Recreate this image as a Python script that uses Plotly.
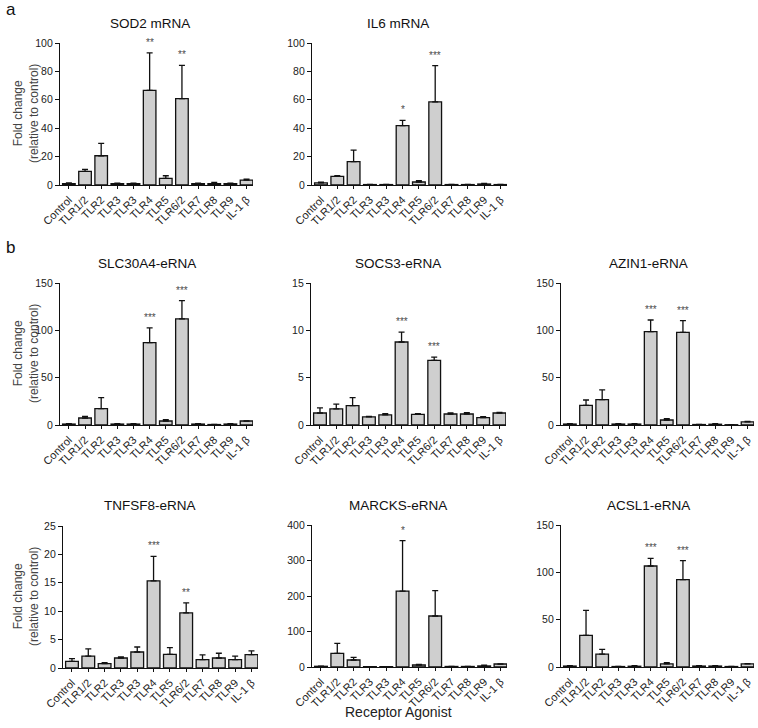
import plotly.graph_objects as go

categories = ["Control", "TLR1/2", "TLR2", "TLR3", "TLR3", "TLR4", "TLR5",
              "TLR6/2", "TLR7", "TLR8", "TLR9", "IL-1 β"]

titles = ["SOD2 mRNA", "IL6 mRNA", "SLC30A4-eRNA", "SOCS3-eRNA", "AZIN1-eRNA",
          "TNFSF8-eRNA", "MARCKS-eRNA", "ACSL1-eRNA"]

sod2_mean = [1.0, 9.6, 20.6, 1.0, 1.0, 66.7, 4.7, 60.8, 1.0, 1.0, 1.0, 3.5]
sod2_err = [0.5, 1.4, 8.7, 0.3, 0.3, 26.3, 1.8, 23.5, 0.3, 0.8, 0.3, 0.7]
il6_mean = [1.5, 6.1, 16.4, 0.3, 0.3, 41.8, 2.1, 58.5, 0.3, 0.3, 0.7, 0.3]
il6_err = [0.5, 0.5, 8.2, 0.1, 0.1, 3.7, 0.9, 25.5, 0.1, 0.1, 0.5, 0.1]
slc_mean = [1.0, 7.4, 17.3, 1.0, 1.0, 87.0, 4.2, 112.0, 1.0, 0.5, 1.0, 4.2]
slc_err = [0.5, 1.8, 11.6, 0.5, 0.5, 15.5, 1.4, 19.3, 0.5, 0.2, 0.5, 0.2]
socs3_mean = [1.27, 1.7, 2.04, 0.85, 1.06, 8.77, 1.13, 6.83, 1.16, 1.16, 0.77, 1.27]
socs3_err = [0.53, 0.5, 0.86, 0.05, 0.14, 1.05, 0.07, 0.35, 0.11, 0.14, 0.11, 0.07]
azin1_mean = [1.0, 20.8, 26.8, 1.0, 1.0, 98.6, 5.3, 97.9, 0.5, 0.8, 0.3, 3.2]
azin1_err = [0.5, 5.6, 10.2, 0.5, 0.5, 12.3, 1.4, 12.3, 0.2, 0.7, 0.1, 0.7]
tnfsf8_mean = [1.18, 2.1, 0.76, 1.76, 2.82, 15.35, 2.4, 9.7, 1.47, 1.76, 1.47, 2.35]
tnfsf8_err = [0.47, 1.25, 0.18, 0.18, 0.88, 4.3, 1.2, 1.77, 0.83, 0.84, 0.63, 0.65]
marcks_mean = [2.0, 38.5, 19.7, 1.0, 1.0, 214.0, 5.6, 143.7, 1.5, 1.5, 3.0, 8.5]
marcks_err = [0.5, 28.2, 7.5, 0.3, 0.3, 142.0, 1.9, 71.3, 0.3, 0.3, 2.0, 0.5]
acsl1_mean = [1.0, 33.5, 13.7, 0.5, 0.8, 106.7, 3.2, 92.3, 1.0, 1.0, 0.5, 3.2]
acsl1_err = [0.5, 26.4, 5.0, 0.2, 0.5, 8.1, 1.4, 20.0, 0.3, 0.3, 0.2, 0.3]

means = [sod2_mean, il6_mean, slc_mean, socs3_mean, azin1_mean,
         tnfsf8_mean, marcks_mean, acsl1_mean]
errs = [sod2_err, il6_err, slc_err, socs3_err, azin1_err,
        tnfsf8_err, marcks_err, acsl1_err]
y_max = [100, 100, 150, 15, 150, 25, 400, 150]
y_dtick = [20, 20, 50, 5, 50, 5, 100, 50]

# significance stars: (category index, text)
stars = [
    [(5, "**"), (7, "**")],
    [(5, "*"), (7, "***")],
    [(5, "***"), (7, "***")],
    [(5, "***"), (7, "***")],
    [(5, "***"), (7, "***")],
    [(5, "***"), (7, "**")],
    [(5, "*")],
    [(5, "***"), (7, "***")],
]

W, H = 758, 728
# pixel boxes: x0, x1, ytop, ybottom
boxes = [
    (60, 253, 43, 185), (312, 507, 43, 185),
    (60, 253, 283, 425), (311, 506, 283, 425), (561, 754, 283, 425),
    (63, 258, 526, 668), (312, 507, 525, 667), (561, 754, 525, 667),
]
title_pos = [(150, 23), (398, 23), (147, 263), (398, 263), (648, 263),
             (150, 505), (398, 505), (648, 505)]

FONT = "Arial, Liberation Sans, sans-serif"
fig = go.Figure()
annotations = []
xs = list(range(len(categories)))

for i in range(8):
    n = i + 1
    xa = "x" if n == 1 else f"x{n}"
    ya = "y" if n == 1 else f"y{n}"
    fig.add_trace(go.Bar(
        x=xs, y=means[i], xaxis=xa, yaxis=ya, width=0.78,
        marker=dict(color="#cfcfcf", line=dict(color="#111111", width=1.3)),
        error_y=dict(type="data", array=errs[i], arrayminus=[0] * 12,
                     symmetric=False, color="#111111", thickness=1.3, width=3),
        showlegend=False, hoverinfo="skip",
    ))
    x0, x1, yt, yb = boxes[i]
    xkey = "xaxis" if n == 1 else f"xaxis{n}"
    ykey = "yaxis" if n == 1 else f"yaxis{n}"
    fig.layout[xkey] = dict(
        domain=[x0 / W, x1 / W], anchor=ya, range=[-0.55, 11.4],
        tickvals=xs, ticktext=categories, tickangle=-45, automargin=False,
        showline=True, linecolor="#111111", linewidth=1.3,
        ticks="outside", ticklen=3, tickwidth=1, tickcolor="#111111",
        showgrid=False, zeroline=False, fixedrange=True,
        tickfont=dict(family=FONT, size=11, color="#222222"),
    )
    fig.layout[ykey] = dict(
        domain=[1 - yb / H, 1 - yt / H], anchor=xa, range=[0, y_max[i]],
        dtick=y_dtick[i], tick0=0, automargin=False,
        showline=True, linecolor="#111111", linewidth=1.3,
        ticks="outside", ticklen=4, tickwidth=1, tickcolor="#111111",
        showgrid=False, zeroline=False, fixedrange=True,
        tickfont=dict(family=FONT, size=10.5, color="#222222"),
    )
    if i in (0, 2, 5):
        annotations.append(dict(x=26 / W, y=1 - ((yt + yb) / 2) / H,
                                xref="paper", yref="paper",
                                text="Fold change<br>(relative to control)",
                                textangle=-90, showarrow=False,
                                xanchor="center", yanchor="middle",
                                font=dict(family=FONT, size=12, color="#444444")))
    tx, ty = title_pos[i]
    annotations.append(dict(x=tx / W, y=1 - ty / H, xref="paper", yref="paper",
                            text=titles[i], showarrow=False,
                            font=dict(family=FONT, size=13.5, color="#111111"),
                            xanchor="center", yanchor="middle"))
    for ci, txt in stars[i]:
        annotations.append(dict(x=ci, y=means[i][ci] + errs[i][ci], xref=xa, yref=ya,
                                text=txt, showarrow=False, yanchor="bottom", yshift=3,
                                font=dict(family=FONT, size=10, color="#4a4a4a")))

annotations.append(dict(x=4 / W, y=1 - 10 / H, xref="paper", yref="paper", text="a",
                        showarrow=False, xanchor="left", yanchor="middle",
                        font=dict(family=FONT, size=17, color="#111111")))
annotations.append(dict(x=4 / W, y=1 - 247 / H, xref="paper", yref="paper", text="b",
                        showarrow=False, xanchor="left", yanchor="middle",
                        font=dict(family=FONT, size=17, color="#111111")))
annotations.append(dict(x=398 / W, y=1 - 712 / H, xref="paper", yref="paper",
                        text="Receptor Agonist", showarrow=False,
                        xanchor="center", yanchor="middle",
                        font=dict(family=FONT, size=14, color="#222222")))

fig.update_layout(
    width=W, height=H, margin=dict(l=0, r=0, t=0, b=0, autoexpand=False),
    paper_bgcolor="white", plot_bgcolor="white",
    annotations=annotations, bargap=0.2,
)

fig.write_html("out.html", config={"displayModeBar": False},
               post_script="document.body.style.margin='0';"
                           "document.body.style.overflow='hidden';")
